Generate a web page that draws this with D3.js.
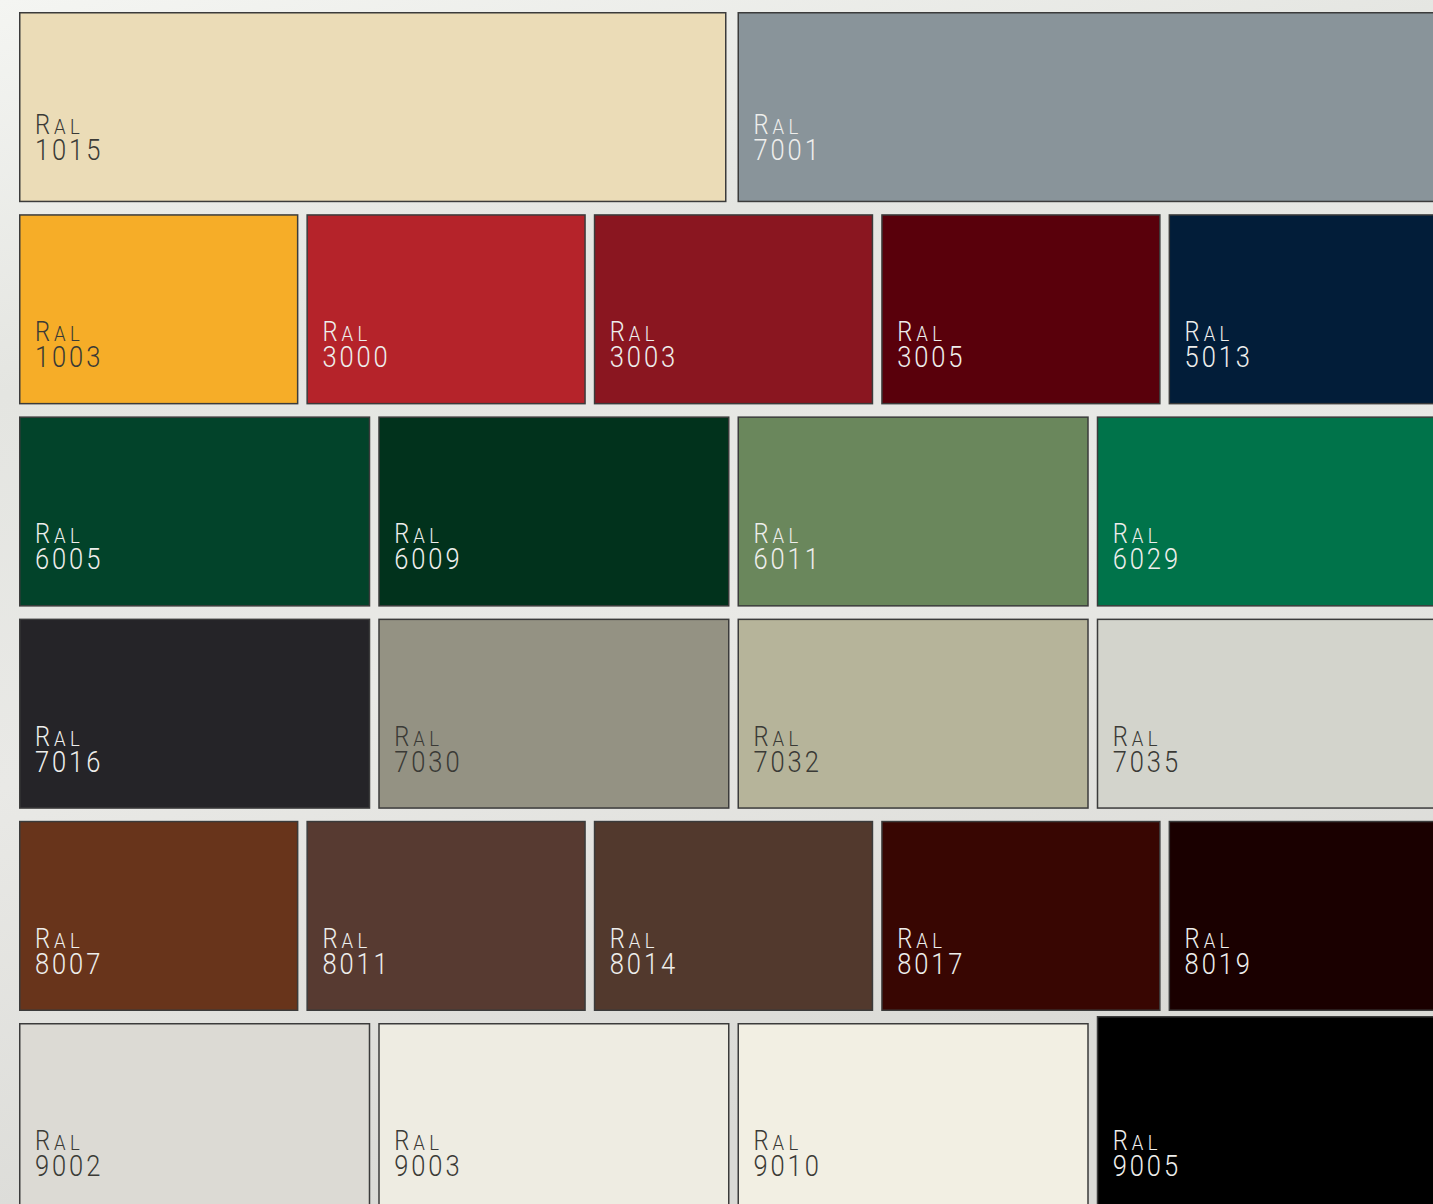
<!DOCTYPE html>
<html>
<head>
<meta charset="utf-8">
<script src="https://cdn.jsdelivr.net/npm/d3@7"></script>
<style>
  html, body { margin: 0; padding: 0; overflow: hidden; }
  body { width: 1433px; height: 1204px; }
  .lbl { font-family: Roboto, "Liberation Sans", sans-serif; font-weight: 300; }
</style>
</head>
<body>
<div class="demo"></div>
<script>
const w = 1433, h = 1204;

// swatch rows, left to right
const rows = [
  ['1015', '7001'],
  ['1003', '3000', '3003', '3005', '5013'],
  ['6005', '6009', '6011', '6029'],
  ['7016', '7030', '7032', '7035'],
  ['8007', '8011', '8014', '8017', '8019'],
  ['9002', '9003', '9010', '9005']
];

const ralColors = {
  '1015': '#ebdcb7', '7001': '#89949a',
  '1003': '#f6ad28', '3000': '#b5232a', '3003': '#8a1620', '3005': '#59000b', '5013': '#021d39',
  '6005': '#02432a', '6009': '#01321c', '6011': '#6a875c', '6029': '#00734a',
  '7016': '#252428', '7030': '#949283', '7032': '#b6b49a', '7035': '#d3d4cc',
  '8007': '#68341b', '8011': '#573a31', '8014': '#52392d', '8017': '#380602', '8019': '#1a0000',
  '9002': '#dcdad4', '9003': '#eeece2', '9010': '#f2efe3', '9005': '#000000'
};

const darkLabel = ['1015', '1003', '7030', '7032', '7035', '9002', '9003', '9010'];

let svg = d3.select('.demo').append('svg').attr('width', w).attr('height', h);

// background
let defs = svg.append('defs');
let bg = defs.append('linearGradient').attr('id', 'bg')
    .attr('x1', 0).attr('y1', 0).attr('x2', 0.3).attr('y2', 1);
bg.append('stop').attr('offset', '0%').attr('stop-color', '#f4f5f2');
bg.append('stop').attr('offset', '30%').attr('stop-color', '#e4e5e1');
bg.append('stop').attr('offset', '60%').attr('stop-color', '#e9e9e6');
bg.append('stop').attr('offset', '100%').attr('stop-color', '#dadad6');
svg.append('rect').attr('width', w).attr('height', h).attr('fill', 'url(#bg)');

// row pitch 202.2, swatch height 190
let rowPitch = 202.2, rowGap = 12;
let yScale = d3.scaleBand().domain(d3.range(rows.length))
    .range([12, 12 + rows.length * rowPitch - rowGap]).paddingInner(rowGap / rowPitch);

let x0 = 19, total = 1437;

let cells = [];
rows.forEach(function(codes, r) {
  let n = codes.length;
  let gap = n === 2 ? 11 : 8;
  let xScale = d3.scaleBand().domain(d3.range(n))
      .range([x0, x0 + total - gap]).paddingInner(gap * n / total);
  codes.forEach(function(c, i) {
    cells.push({ code: c, row: r, x: xScale(i), y: yScale(r), w: xScale.bandwidth(), h: yScale.bandwidth() });
  });
});

let g = svg.selectAll('g.cell').data(cells).enter()
    .append('g').attr('class', 'cell')
    .attr('transform', function(d) { return 'translate(' + d.x + ',' + d.y + ')'; });

g.append('rect')
    .attr('x', 0.75).attr('y', function(d) { return d.code === '9005' ? -6.25 : 0.75; })
    .attr('width', function(d) { return d.w - 1.5; })
    .attr('height', function(d) { return d.code === '9005' ? d.h + 30 : d.h - 1.5; })
    .attr('fill', function(d) { return ralColors[d.code]; })
    .attr('stroke', '#3b3b3b')
    .attr('stroke-width', 1.5);

let txt = g.append('text').attr('class', 'lbl')
    .attr('transform', function(d) { return 'translate(16,' + (d.row === 0 ? -5 : 0) + ') scale(0.88,1)'; })
    .attr('fill', function(d) { return darkLabel.includes(d.code) ? '#3a3a36' : '#eeeeec'; });

txt.append('tspan').attr('x', 0).attr('y', 127).attr('font-size', '27px')
    .attr('letter-spacing', '4.5px').text('R');
txt.append('tspan').attr('font-size', '21px').attr('letter-spacing', '5px').text('AL');
txt.append('tspan').attr('x', 0).attr('y', 153).attr('font-size', '29px')
    .attr('letter-spacing', '3.3px')
    .text(function(d) { return d.code; });
</script>
</body>
</html>
